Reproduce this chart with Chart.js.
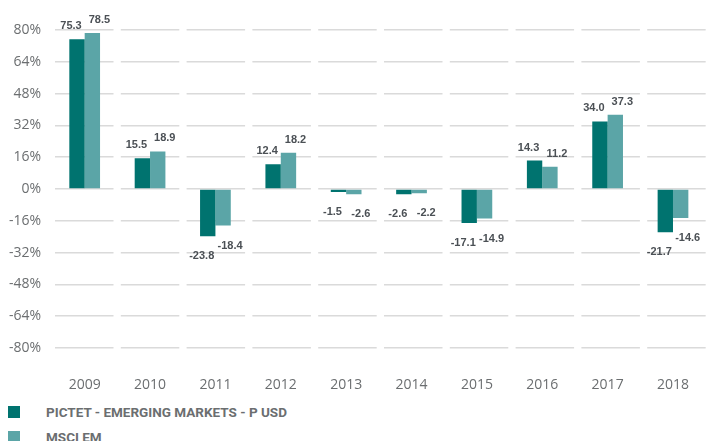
<!DOCTYPE html>
<html lang="en">
<head>
  <meta charset="UTF-8">
  <title>Pictet Emerging Markets vs MSCI EM</title>
  <script src="https://cdn.jsdelivr.net/npm/chart.js"></script>
  <style>
    body { margin: 0; background: #fff; width: 710px; height: 441px; overflow: hidden; position: relative; }
    #chartBox { position: absolute; left: 0; top: 0; width: 710px; height: 392px; }
    .legend { position: absolute; left: 8px; font-family: "Roboto", "Liberation Sans", sans-serif; font-weight: bold; font-size: 13.5px; color: #6b6e70; }
    .legend div { display: flex; align-items: center; height: 25px; }
    .legend span.box { display: inline-block; width: 12px; height: 12px; margin-right: 26px; }
  </style>
</head>
<body>
  <div id="chartBox"><canvas id="barChart" width="710" height="392"></canvas></div>
  <div class="legend" id="legend" style="top: 399px;"></div>

  <script>
    const years = ['2009', '2010', '2011', '2012', '2013', '2014', '2015', '2016', '2017', '2018'];
    const pictet = [75.3, 15.5, -23.8, 12.4, -1.5, -2.6, -17.1, 14.3, 34.0, -21.7];
    const msci = [78.5, 18.9, -18.4, 18.2, -2.6, -2.2, -14.9, 11.2, 37.3, -14.6];
    const seriesNames = ['PICTET - EMERGING MARKETS - P USD', 'MSCI EM'];
    const seriesColors = ['#00736f', '#5ba5a7'];

    // value labels: pushed a bit outward from the pair, above / below the bar end
    const valueLabels = {
      id: 'valueLabels',
      afterDatasetsDraw(chart) {
        const ctx = chart.ctx;
        ctx.save();
        ctx.font = 'bold 11px "Liberation Sans", Arial, sans-serif';
        ctx.fillStyle = '#4b5055';
        ctx.textAlign = 'center';
        ctx.textBaseline = 'middle';
        chart.data.datasets.forEach((ds, di) => {
          chart.getDatasetMeta(di).data.forEach((bar, i) => {
            const v = ds.data[i];
            const dx = di === 0 ? -6 : 7;
            const dy = v >= 0 ? -13 : 20;
            ctx.fillText(v.toFixed(1), bar.x + dx, bar.y + dy);
          });
        });
        ctx.restore();
      }
    };

    new Chart(document.getElementById('barChart').getContext('2d'), {
      type: 'bar',
      data: {
        labels: years,
        datasets: [
          { label: seriesNames[0], data: pictet, backgroundColor: seriesColors[0] },
          { label: seriesNames[1], data: msci, backgroundColor: seriesColors[1] }
        ]
      },
      options: {
        responsive: false,
        animation: false,
        devicePixelRatio: 1,
        categoryPercentage: 0.47,
        barPercentage: 1.0,
        layout: { padding: { top: 30, right: 0, bottom: 0, left: 0 } },
        plugins: { legend: { display: false }, tooltip: { enabled: false } },
        scales: {
          x: {
            grid: { display: false },
            border: { display: false },
            ticks: { color: '#6b6e70', font: { family: '"Open Sans", sans-serif', size: 14 }, padding: 21 },
            afterFit: s => { s.height = 44; }
          },
          y: {
            min: -80,
            max: 80,
            grid: { color: '#dadada', lineWidth: 1.5, drawTicks: false },
            border: { display: false, dash: [58.5, 7.3], dashOffset: 62.8 },
            ticks: {
              stepSize: 16,
              padding: 11,
              color: '#6b6e70',
              font: { family: '"Open Sans", sans-serif', size: 14 },
              callback: v => v + '%'
            },
            afterFit: s => { s.width = 52; }
          }
        }
      },
      plugins: [valueLabels]
    });

    // legend, one series per row
    document.getElementById('legend').innerHTML = seriesNames.map((n, i) =>
      `<div><span class="box" style="background:${seriesColors[i]}"></span>${n}</div>`).join('');
  </script>
</body>
</html>
